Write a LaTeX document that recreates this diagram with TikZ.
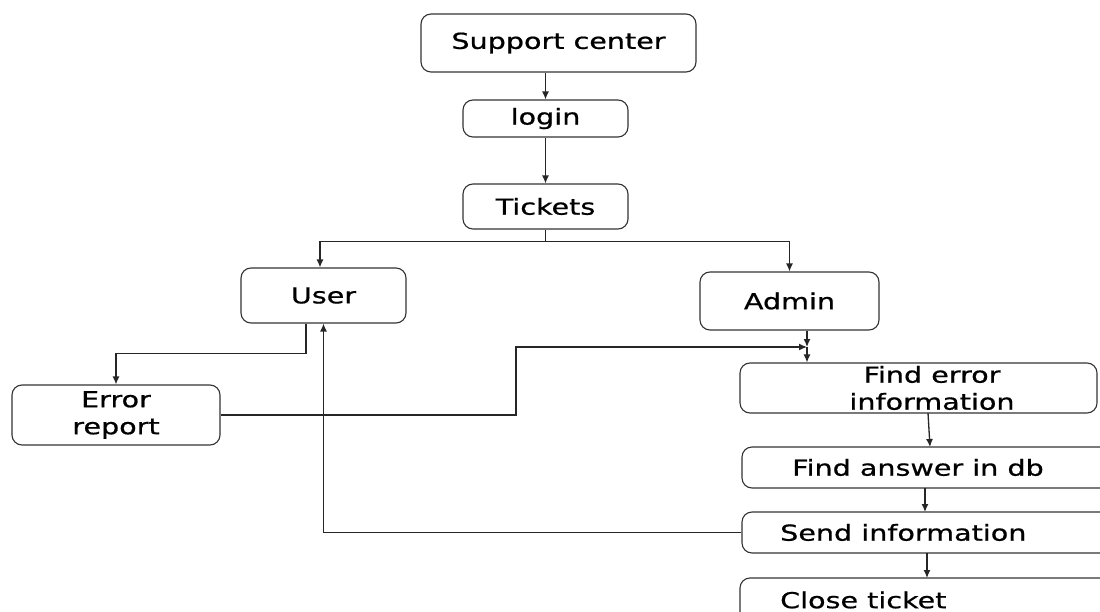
\documentclass[tikz,border=0pt]{standalone}
\usepackage{fontspec}
\setmainfont{DejaVu Sans}
\newfontfamily\lblfont{DejaVu Sans}[FakeStretch=1.3,FakeBold=0.7]
\usetikzlibrary{arrows.meta}
\begin{document}
\begin{tikzpicture}[x=1pt,y=-1pt,
  lbl/.style={font=\lblfont\fontsize{22}{27}\selectfont,align=center,inner sep=0pt},
  box/.style={lbl,draw=black!80,line width=1.1pt,rounded corners=10pt},
  conn/.style={line width=1.3pt,black!85},
  arr/.style={conn,-{Latex[length=8pt,width=7pt]}}]
\useasboundingbox (0,0) rectangle (1100,612);
\clip (0,0) rectangle (1100,612);
\fill[white] (0,0) rectangle (1100,612);
\node[box,minimum width=275pt,minimum height=58pt] (sc) at (558.5,43) {Support center};
\node[box,minimum width=165pt,minimum height=37pt] (login) at (545.5,118.5) {login};
\node[box,minimum width=165pt,minimum height=45pt] (tk) at (545.5,206.5) {Tickets};
\node[box,minimum width=165pt,minimum height=55pt] (user) at (323.5,295.5) {User};
\node[box,minimum width=179pt,minimum height=58pt] (admin) at (789.5,301) {Admin};
\node[box,minimum width=208pt,minimum height=60pt] (er) at (116,415) {Error\\report};
\node[box,minimum width=357pt,minimum height=50pt] (fe) at (918.5,388) {};
\node[lbl] (fet) at (932,388) {Find error\\information};
\node[box,minimum width=400pt,minimum height=41pt] (fa) at (942,467.5) {};
\node[lbl,anchor=west] (fat) at (792,467.5) {Find answer in db};
\node[box,minimum width=400pt,minimum height=41pt] (si) at (942,532.5) {};
\node[lbl,anchor=west] (sit) at (780,532.5) {Send information};
\node[box,minimum width=400pt,minimum height=60pt] (ct) at (940,608) {};
\node[lbl,anchor=west] (ctt) at (780,600) {Close ticket};
% connectors
\draw[arr] (login.north |- sc.south) -- (login.north);
\draw[arr] (login.south) -- (tk.north);
\draw[conn] (tk.south) -- ++(0,12) coordinate (br);
\draw[arr] (br) -| ([xshift=-3.5pt]user.north);
\draw[arr] (br) -| (admin.north);
\draw[arr] ([xshift=-17.5pt]user.south) -- ++(0,30) -| (er.north);
\coordinate (j) at (807,347);
\draw[arr] ([xshift=17.5pt]admin.south) -- (j);
\draw[arr] (j) -- (j |- fe.north);
\draw[arr] (er.east) -| (516,381) |- (j);
\draw[arr] (928,413) -- (930,447);
\draw[arr] (925,488) -- (925,512);
\draw[arr] (927,553) -- (927,578);
\draw[arr] (si.west) -| (user.south);
\end{tikzpicture}
\end{document}
